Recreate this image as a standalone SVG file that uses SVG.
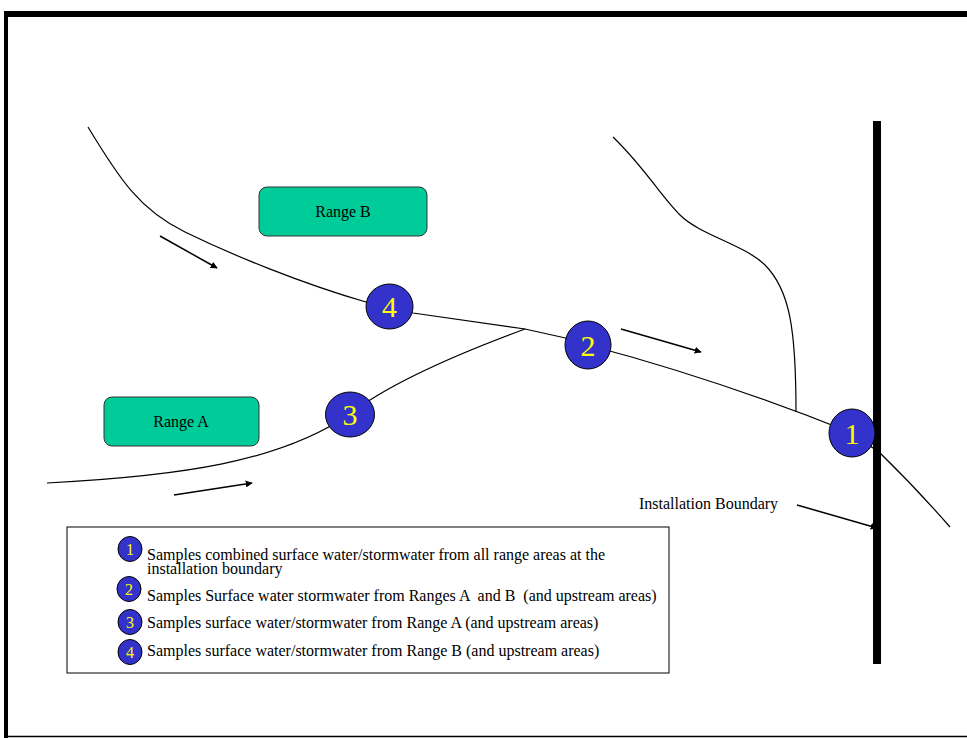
<svg xmlns="http://www.w3.org/2000/svg" width="967" height="738" viewBox="0 0 967 738">
  <defs>
    <marker id="arrow" viewBox="0 0 10 10" refX="9" refY="5" markerWidth="7" markerHeight="7" markerUnits="userSpaceOnUse" orient="auto">
      <path d="M0,0 L10,5 L0,10 Z" fill="#000"/>
    </marker>
    <style>
      .stream { fill: none; stroke: #000; stroke-width: 1.2; }
      .flow { fill: none; stroke: #000; stroke-width: 1.5; marker-end: url(#arrow); }
      .site { fill: #3333CC; stroke: #000; stroke-width: 1; }
      .site-num { font-family: "Liberation Serif", "Times New Roman", serif; font-size: 30px; fill: #FFFF00; text-anchor: middle; }
      .key-num { font-family: "Liberation Serif", "Times New Roman", serif; font-size: 16px; fill: #FFFF00; text-anchor: middle; }
      .range { fill: #00CC99; stroke: #333; stroke-width: 1; }
      .label { font-family: "Liberation Serif", "Times New Roman", serif; font-size: 16px; fill: #000; }
      .center { text-anchor: middle; }
    </style>
  </defs>

  <rect width="967" height="738" fill="#fff"/>

  <!-- page frame -->
  <g id="frame">
    <rect x="4" y="11" width="963" height="6" fill="#000"/>
    <rect x="4" y="11" width="4" height="727" fill="#000"/>
    <line x1="4" y1="736.5" x2="967" y2="736.5" stroke="#000" stroke-width="1.5"/>
  </g>

  <!-- streams and flow arrows -->
  <g id="connectors">
    <path class="stream" d="M88,127 C120,180 140,210 185,232 S300,283 366,302 L413,313 L525,329 L588,343"/>
    <path class="stream" d="M588,345 Q720,380 852,433 L880,453 Q915,487 950,527"/>
    <path class="stream" d="M47,483 C180,476 280,462 350,414"/>
    <path class="stream" d="M350,414 Q400,375 525,329"/>
    <path class="stream" d="M613,137 C645,168 660,195 680,215 C700,235 745,245 765,265 C790,290 796,330 796,412"/>
    <line class="flow" x1="160" y1="236" x2="217" y2="268"/>
    <line class="flow" x1="621" y1="329" x2="701" y2="352"/>
    <line class="flow" x1="174" y1="495" x2="252" y2="483"/>
    <line class="flow" x1="797" y1="505" x2="877" y2="528"/>
  </g>

  <!-- installation boundary -->
  <g id="boundary">
    <rect x="873" y="121" width="8" height="543" fill="#000"/>
    <text class="label" x="639" y="509">Installation Boundary</text>
  </g>

  <!-- range areas -->
  <g id="range-b">
    <rect class="range" x="259" y="187" width="168" height="49" rx="8"/>
    <text class="label center" x="343" y="217">Range B</text>
  </g>
  <g id="range-a">
    <rect class="range" x="104" y="397" width="155" height="49" rx="8"/>
    <text class="label center" x="181" y="427">Range A</text>
  </g>

  <!-- sampling sites -->
  <g id="site-4">
    <ellipse class="site" cx="389.5" cy="306.5" rx="23.5" ry="22.5"/>
    <text class="site-num" x="389.5" y="317">4</text>
  </g>
  <g id="site-2">
    <ellipse class="site" cx="588" cy="345" rx="23" ry="24"/>
    <text class="site-num" x="588" y="356">2</text>
  </g>
  <g id="site-3">
    <ellipse class="site" cx="350" cy="414.5" rx="24.5" ry="22.5"/>
    <text class="site-num" x="350" y="425">3</text>
  </g>
  <g id="site-1">
    <ellipse class="site" cx="852" cy="433" rx="23" ry="24"/>
    <text class="site-num" x="852" y="444">1</text>
  </g>

  <!-- legend -->
  <g id="legend">
    <rect x="67" y="527" width="602" height="146" fill="#fff" stroke="#000" stroke-width="1"/>
    <ellipse class="site" cx="130" cy="549" rx="12" ry="12.5"/>
    <text class="key-num" x="130" y="555">1</text>
    <ellipse class="site" cx="129" cy="589" rx="12" ry="12.5"/>
    <text class="key-num" x="129" y="595">2</text>
    <ellipse class="site" cx="130" cy="622" rx="12" ry="12.5"/>
    <text class="key-num" x="130" y="628">3</text>
    <ellipse class="site" cx="130" cy="652" rx="12" ry="12.5"/>
    <text class="key-num" x="130" y="658">4</text>
    <text class="label" x="147" y="560">Samples combined surface water/stormwater from all range areas at the</text>
    <text class="label" x="147" y="574">installation boundary</text>
    <text class="label" x="147" y="601" xml:space="preserve">Samples Surface water stormwater from Ranges A  and B  (and upstream areas)</text>
    <text class="label" x="147" y="628">Samples surface water/stormwater from Range A (and upstream areas)</text>
    <text class="label" x="147" y="656">Samples surface water/stormwater from Range B (and upstream areas)</text>
  </g>
</svg>
